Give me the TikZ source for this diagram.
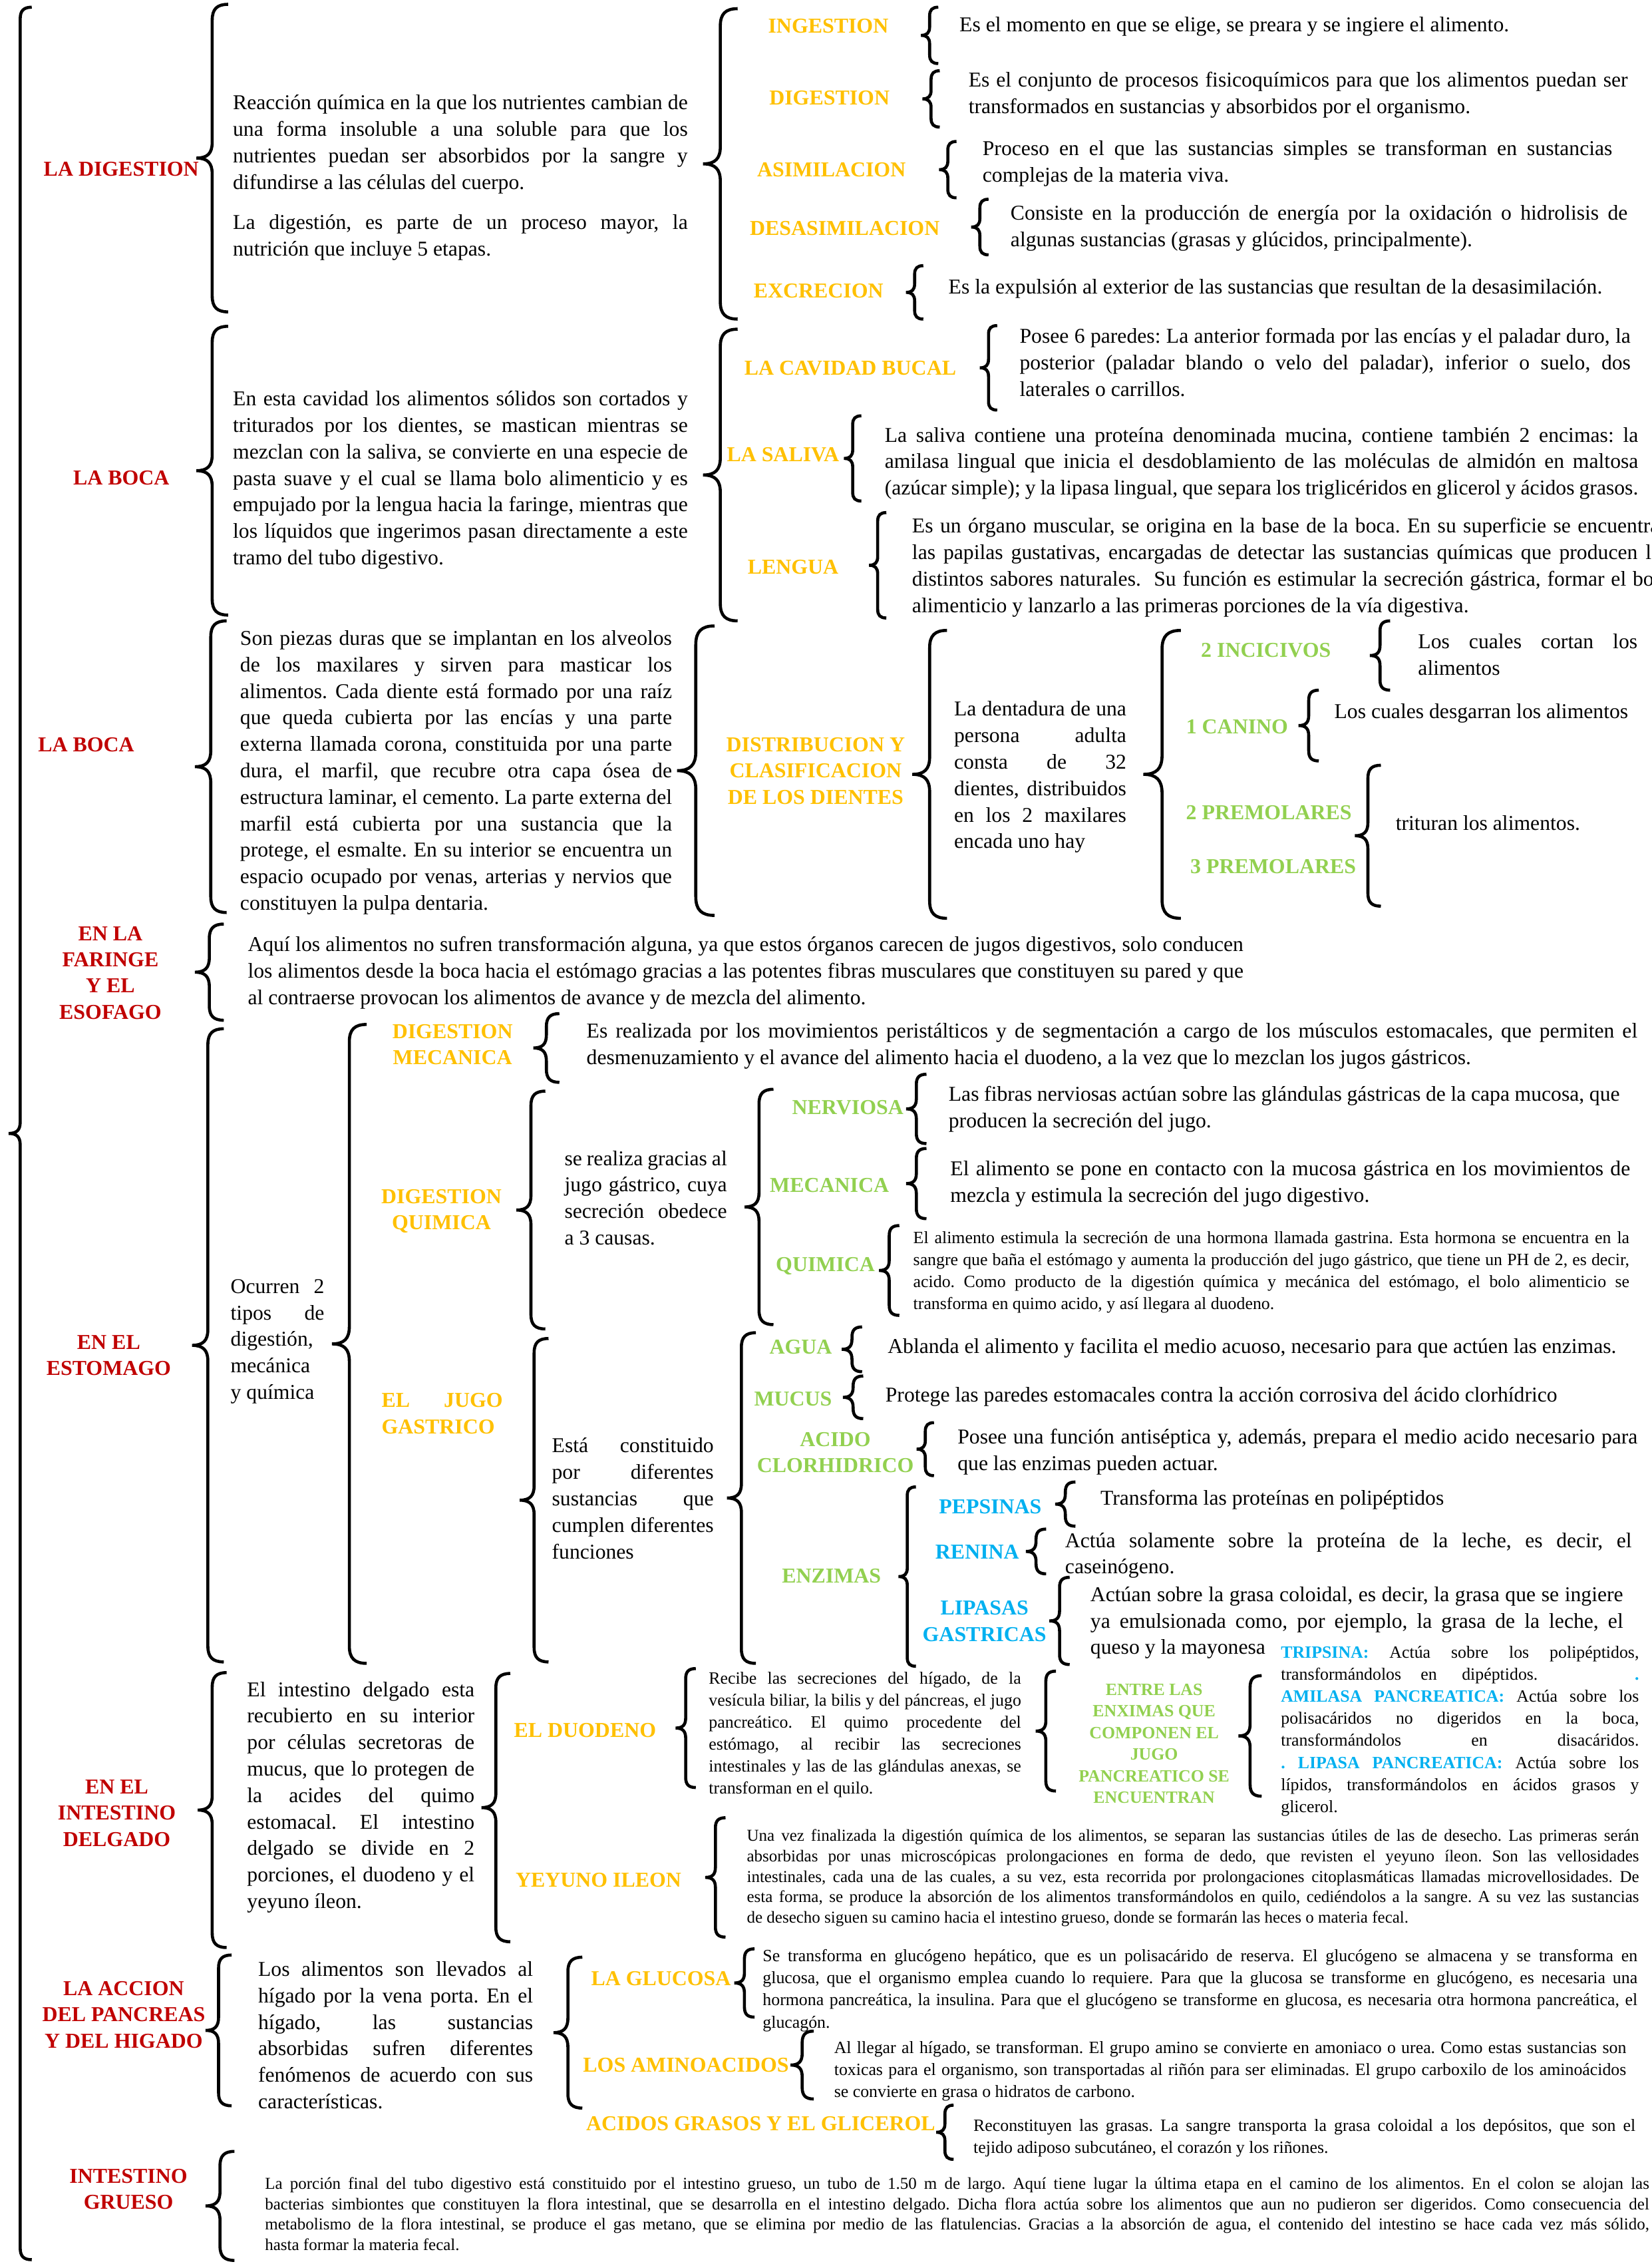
\documentclass[tikz,border=0pt]{standalone}
\usepackage{fontspec}
\setmainfont{Liberation Serif}

\definecolor{rojo}{HTML}{C00000}
\definecolor{amarillo}{HTML}{FFC000}
\definecolor{verde}{HTML}{92D050}
\definecolor{azul}{HTML}{00B0F0}

% unidad de dibujo
\newdimen\su \su=0.5205pt
\hbadness=10000 \hfuzz=40pt
\setlength{\parindent}{0pt}
\frenchspacing

% renglon justificado a todo el ancho del bloque
\def\anchojl{100pt}
\newcommand{\jl}[1]{\hbox to\anchojl{\spaceskip=0pt\xspaceskip=0pt #1}\par}
\newcommand{\azb}{\color{azul}\bfseries}

% llave: #1 gancho, #2 x, #3 y de arriba, #4 y de abajo
\newcommand{\llave}[4][7]{%
    \pgfmathsetmacro{\ymed}{(#3+#4)/2}%
    \draw[llave] ({#2+#1},#3) .. controls ({#2+0.3*#1},#3) and (#2,{#3+0.3*#1}) .. (#2,{#3+#1})
        -- (#2,{\ymed-#1}) .. controls (#2,{\ymed-0.3*#1}) and ({#2-0.3*#1},\ymed) .. ({#2-#1},\ymed)
        .. controls ({#2-0.3*#1},\ymed) and (#2,{\ymed+0.3*#1}) .. (#2,{\ymed+#1})
        -- (#2,{#4-#1}) .. controls (#2,{#4-0.3*#1}) and ({#2+0.3*#1},#4) .. ({#2+#1},#4);}

\tikzset{
    llave/.style={line width=1.1pt},
    ancho/.style={text width=#1, /utils/exec={\def\anchojl{#1}}},
    texto/.style={inner sep=0pt, anchor=base west, align=justify, font=\fontsize{7.6}{9.55}\selectfont},
    chico/.style={texto, font=\fontsize{6.2}{7.95}\selectfont},
    menudo/.style={texto, font=\fontsize{6.0}{7.35}\selectfont},
    rotulo/.style={inner sep=0pt, anchor=center, align=center, font=\bfseries\fontsize{7.65}{9.4}\selectfont, text=rojo},
    paso/.style={rotulo, text=amarillo},
    tipo/.style={rotulo, text=verde},
    enzima/.style={rotulo, text=azul}
}

\begin{document}
\begin{tikzpicture}[x=\su, y=-\su]
    \useasboundingbox (0,0) rectangle (1144,1568);
    \clip (0,0) rectangle (1144,1568);

    % llave general
    \llave[8]{14}{5}{1565}

    % ---------------- LA DIGESTION ----------------
    \node (digestion) at (84,117) [rotulo] {LA DIGESTION};
    \llave[11]{147}{3}{216}
    \node (digdef) at (161,76) [texto, ancho=164pt] {\jl{Reacción química en la que los nutrientes cambian de}\jl{una forma insoluble a una soluble para que los}\jl{nutrientes puedan ser absorbidos por la sangre y}difundirse a las células del cuerpo.};
    \node (dignut) at (161,159) [texto, ancho=164pt] {\jl{La digestión, es parte de un proceso mayor, la}nutrición que incluye 5 etapas.};
    \llave[12]{499}{6}{221}

    % etapas
    \node (ingestion) at (573.8,18.1) [paso] {INGESTION};
    \llave[6]{644}{5}{44}
    \node (ingestiont) at (664.3,21.8) [texto] {Es el momento en que se elige, se preara y se ingiere el alimento.};
    \node (digest) at (574.6,67.6) [paso] {DIGESTION};
    \llave[6]{645}{49}{88}
    \node (digestt) at (670.6,60.1) [texto, ancho=237.7pt] {\jl{Es el conjunto de procesos fisicoquímicos para que los alimentos puedan ser}transformados en sustancias y absorbidos por el organismo.};
    \node (asim) at (576,117.6) [paso] {ASIMILACION};
    \llave[6]{656.6}{98}{137}
    \node (asimt) at (680.3,107.8) [texto, ancho=227.1pt] {\jl{Proceso en el que las sustancias simples se transforman en sustancias}complejas de la materia viva.};
    \node (desasim) at (585.2,158.3) [paso] {DESASIMILACION};
    \llave[6]{678.8}{138}{176.5}
    \node (desasimt) at (699.7,152.4) [texto, ancho=222.5pt] {\jl{Consiste en la producción de energía por la oxidación o hidrolisis de}algunas sustancias (grasas y glúcidos, principalmente).};
    \node (excrec) at (567,201.4) [paso] {EXCRECION};
    \llave[6]{633.6}{184}{221}
    \node (excrect) at (656.7,203.6) [texto] {Es la expulsión al exterior de las sustancias que resultan de la desasimilación.};

    % ---------------- LA BOCA ----------------
    \node (boca) at (84,331) [rotulo] {LA BOCA};
    \llave[11]{147}{226}{426}
    \node (bocadef) at (161,281) [texto, ancho=164pt] {\jl{En esta cavidad los alimentos sólidos son cortados y}\jl{triturados por los dientes, se mastican mientras se}\jl{mezclan con la saliva, se convierte en una especie de}\jl{pasta suave y el cual se llama bolo alimenticio y es}\jl{empujado por la lengua hacia la faringe, mientras que}\jl{los líquidos que ingerimos pasan directamente a este}tramo del tubo digestivo.};
    \llave[12]{499}{228}{430}
    \node (cavidad) at (589,255) [paso] {LA CAVIDAD BUCAL};
    \llave[6]{684.8}{225.5}{284}
    \node (cavidadt) at (706,237.7) [texto, ancho=220.3pt] {\jl{Posee 6 paredes: La anterior formada por las encías y el paladar duro, la}\jl{posterior (paladar blando o velo del paladar), inferior o suelo, dos}laterales o carrillos.};
    \node (saliva) at (542.4,315) [paso] {LA SALIVA};
    \llave[6]{590.7}{288}{347}
    \node (salivat) at (612.5,306.1) [texto, ancho=271.7pt] {\jl{La saliva contiene una proteína denominada mucina, contiene también 2 encimas: la}\jl{amilasa lingual que inicia el desdoblamiento de las moléculas de almidón en maltosa}\jl{(azúcar simple); y la lipasa lingual, que separa los triglicéridos en glicerol y ácidos grasos.}};
    \node (lengua) at (549.4,392.7) [paso] {LENGUA};
    \llave[6]{608}{355}{428}
    \node (linguat) at (631.5,369.1) [texto, ancho=273.3pt] {\jl{Es un órgano muscular, se origina en la base de la boca. En su superficie se encuentran}\jl{las papilas gustativas, encargadas de detectar las sustancias químicas que producen los}\jl{distintos sabores naturales.\ \ Su función es estimular la secreción gástrica, formar el bolo}alimenticio y lanzarlo a las primeras porciones de la vía digestiva.};

    % ---------------- LA BOCA: dientes ----------------
    \node (dientes) at (59.7,516) [rotulo] {LA BOCA};
    \llave[11]{146}{430}{632}
    \node (dientesdef) at (166,446.8) [texto, ancho=155.7pt] {\jl{Son piezas duras que se implantan en los alveolos}\jl{de los maxilares y sirven para masticar los}\jl{alimentos. Cada diente está formado por una raíz}\jl{que queda cubierta por las encías y una parte}\jl{externa llamada corona, constituida por una parte}\jl{dura, el marfil, que recubre otra capa ósea de}\jl{estructura laminar, el cemento. La parte externa del}\jl{marfil está cubierta por una sustancia que la}\jl{protege, el esmalte. En su interior se encuentra un}\jl{espacio ocupado por venas, arterias y nervios que}constituyen la pulpa dentaria.};
    \llave[13]{482}{433.5}{634}
    \node (distrib) at (565,534) [paso] {DISTRIBUCION Y\\CLASIFICACION\\DE LOS DIENTES};
    \llave[12]{644}{436.6}{636}
    \node (dentadura) at (660.6,495.9) [texto, ancho=62.1pt] {\jl{La dentadura de una}\jl{persona adulta}\jl{consta de 32}\jl{dientes, distribuidos}\jl{en los 2 maxilares}encada uno hay};
    \llave[13]{805}{436.6}{636}
    \node (incisivos) at (877,450.5) [tipo] {2 INCICIVOS};
    \llave[7]{956}{430}{478}
    \node (incisivost) at (982,449.1) [texto, ancho=79.1pt] {\jl{Los cuales cortan los}alimentos};
    \node (canino) at (857,503.5) [tipo] {1 CANINO};
    \llave[7]{906.6}{478}{527}
    \node (caninot) at (924,497.5) [texto] {Los cuales desgarran los alimentos};
    \node (premol2) at (879,563) [tipo] {2 PREMOLARES};
    \node (premol3) at (882,600) [tipo] {3 PREMOLARES};
    \llave[9]{947.6}{530}{627.6}
    \node (premolt) at (966.5,575.1) [texto] {trituran los alimentos.};

    % ---------------- FARINGE Y ESOFAGO ----------------
    \node (faringe) at (76.5,673.8) [rotulo] {EN LA\\FARINGE\\Y EL\\ESOFAGO};
    \llave[10]{145}{640}{706.6}
    \node (faringet) at (171.3,658.9) [texto, ancho=359pt] {\jl{Aquí los alimentos no sufren transformación alguna, ya que estos órganos carecen de jugos digestivos, solo conducen}\jl{los alimentos desde la boca hacia el estómago gracias a las potentes fibras musculares que constituyen su pared y que}al contraerse provocan los alimentos de avance y de mezcla del alimento.};

    % ---------------- ESTOMAGO ----------------
    \node (estomago) at (75.3,938.6) [rotulo] {EN EL\\ESTOMAGO};
    \llave[11]{144}{712.5}{1151}
    \node (tipos) at (159.4,895.7) [texto, ancho=33.8pt] {\jl{Ocurren 2}\jl{tipos de}digestión,\par mecánica\par y química};
    \llave[12]{242}{709.5}{1152}
    \node (digmec) at (313.5,723.6) [paso] {DIGESTION\\MECANICA};
    \llave[9]{378.5}{702}{749.6}
    \node (digmect) at (406,718.7) [texto, ancho=378.9pt] {\jl{Es realizada por los movimientos peristálticos y de segmentación a cargo de los músculos estomacales, que permiten el}desmenuzamiento y el avance del alimento hacia el duodeno, a la vez que lo mezclan los jugos gástricos.};
    \node (digqui) at (305.8,838.9) [paso] {DIGESTION\\QUIMICA};
    \llave[10]{367.8}{755.7}{920.4}
    \node (causas) at (390.7,807.1) [texto, ancho=58.6pt] {\jl{se realiza gracias al}\jl{jugo gástrico, cuya}\jl{secreción obedece}a 3 causas.};
    \llave[10]{525.8}{754.4}{917.4}
    \node (nerviosa) at (587.3,767) [tipo] {NERVIOSA};
    \llave[7]{634.8}{744}{792}
    \node (nerviosat) at (656.8,762.6) [texto, ancho=242pt] {\jl{Las fibras nerviosas actúan sobre las glándulas gástricas de la capa mucosa, que}producen la secreción del jugo.};
    \node (mecanica) at (574.6,820.8) [tipo] {MECANICA};
    \llave[7]{634.8}{795.4}{844}
    \node (mecanicat) at (658,814.1) [texto, ancho=245.1pt] {\jl{El alimento se pone en contacto con la mucosa gástrica en los movimientos de}mezcla y estimula la secreción del jugo digestivo.};
    \node (quimica) at (571.8,876.9) [tipo] {QUIMICA};
    \llave[7]{616}{848.8}{911}
    \node (quimicat) at (632.3,861) [chico, ancho=258.2pt] {\jl{El alimento estimula la secreción de una hormona llamada gastrina. Esta hormona se encuentra en la}\jl{sangre que baña el estómago y aumenta la producción del jugo gástrico, que tiene un PH de 2, es decir,}\jl{acido. Como producto de la digestión química y mecánica del estómago, el bolo alimenticio se}transforma en quimo acido, y así llegara al duodeno.};

    % jugo gastrico
    \node (jugo) at (264,979) [paso, anchor=west, align=left, ancho=43.7pt] {\jl{EL JUGO}GASTRICO};
    \llave[10]{370}{927}{1151}
    \node (sustancias) at (382,1006.1) [texto, ancho=58.3pt] {\jl{Está constituido}\jl{por diferentes}\jl{sustancias que}\jl{cumplen diferentes}funciones};
    \llave[10]{513.6}{923}{1152}
    \node (agua) at (554.7,932.9) [tipo] {AGUA};
    \llave[7]{590.2}{919}{950}
    \node (aguat) at (614.6,937.1) [texto] {Ablanda el alimento y facilita el medio acuoso, necesario para que actúen las enzimas.};
    \node (mucus) at (549.4,969) [tipo] {MUCUS};
    \llave[7]{591}{953}{982.5}
    \node (mucust) at (613,970.9) [texto] {Protege las paredes estomacales contra la acción corrosiva del ácido clorhídrico};
    \node (acido) at (578.7,1005.8) [tipo] {ACIDO\\CLORHIDRICO};
    \llave[6]{641}{985.3}{1022}
    \node (acidot) at (663,1000.1) [texto, ancho=245.2pt] {\jl{Posee una función antiséptica y, además, prepara el medio acido necesario para}que las enzimas pueden actuar.};
    \node (enzimas) at (576,1091.6) [tipo] {ENZIMAS};
    \llave[6]{628.5}{1029.8}{1154}
    \node (pepsinas) at (686,1043.6) [enzima] {PEPSINAS};
    \llave[7]{738}{1026.4}{1057}
    \node (pepsinast) at (762,1042.4) [texto] {Transforma las proteínas en polipéptidos};
    \node (renina) at (677,1075) [enzima] {RENINA};
    \llave[7]{717.7}{1059}{1090}
    \node (reninat) at (737.5,1071.6) [texto, ancho=204.3pt] {\jl{Actúa solamente sobre la proteína de la leche, es decir, el}caseinógeno.};
    \node (lipasas) at (682,1122.8) [enzima] {LIPASAS\\GASTRICAS};
    \llave[7]{734}{1092.4}{1152.8}
    \node (lipasast) at (755,1109.1) [texto, ancho=192.1pt] {\jl{Actúan sobre la grasa coloidal, es decir, la grasa que se ingiere}\jl{ya emulsionada como, por ejemplo, la grasa de la leche, el}queso y la mayonesa};

    % ---------------- INTESTINO DELGADO ----------------
    \node (delgado) at (80.9,1255.8) [rotulo] {EN EL\\INTESTINO\\DELGADO};
    \llave[10]{147}{1158.4}{1348.8}
    \node (delgadot) at (170.8,1174.9) [texto, ancho=82pt] {\jl{El intestino delgado esta}\jl{recubierto en su interior}\jl{por células secretoras de}\jl{mucus, que lo protegen de}\jl{la acides del quimo}\jl{estomacal. El intestino}\jl{delgado se divide en 2}\jl{porciones, el duodeno y el}yeyuno íleon.};
    \llave[10]{343.5}{1159}{1344.8}
    \node (duodeno) at (405.3,1198.5) [paso] {EL DUODENO};
    \llave[7]{475}{1155.6}{1238}
    \node (duodenot) at (490.7,1166.1) [chico, ancho=112.6pt] {\jl{Recibe las secreciones del hígado, de la}\jl{vesícula biliar, la bilis y del páncreas, el jugo}\jl{pancreático. El quimo procedente del}\jl{estómago, al recibir las secreciones}\jl{intestinales y las de las glándulas anexas, se}transforman en el quilo.};
    \llave[7]{724.5}{1157.4}{1240.4}
    \node (entre) at (799.5,1207.5) [tipo, font=\bfseries\fontsize{6.2}{7.8}\selectfont] {ENTRE LAS\\ENXIMAS QUE\\COMPONEN EL\\JUGO\\PANCREATICO SE\\ENCUENTRAN};
    \llave[8]{866}{1160.5}{1244}
    \node (pancreat) at (887,1148.3) [chico, ancho=129.1pt] {\jl{{\azb TRIPSINA:} Actúa sobre los polipéptidos,}\jl{transformándolos\hspace{7pt}en\hspace{9pt}dipéptidos.\hfill{\azb .}}\jl{{\azb AMILASA PANCREATICA:} Actúa sobre los}\jl{polisacáridos no digeridos en la boca,}\jl{transformándolos en disacáridos.}\jl{{\azb . LIPASA PANCREATICA:} Actúa sobre los}\jl{lípidos, transformándolos en ácidos grasos y}glicerol.};
    \node (yeyuno) at (414.6,1302) [paso] {YEYUNO ILEON};
    \llave[7]{495.6}{1258.9}{1341.6}
    \node (yeyunot) at (517,1275.2) [menudo, ancho=321.7pt] {\jl{Una vez finalizada la digestión química de los alimentos, se separan las sustancias útiles de las de desecho. Las primeras serán}\jl{absorbidas por unas microscópicas prolongaciones en forma de dedo, que revisten el yeyuno íleon. Son las vellosidades}\jl{intestinales, cada una de las cuales, a su vez, esta recorrida por prolongaciones citoplasmáticas llamadas microvellosidades. De}\jl{esta forma, se produce la absorción de los alimentos transformándolos en quilo, cediéndolos a la sangre. A su vez las sustancias}de desecho siguen su camino hacia el intestino grueso, donde se formarán las heces o materia fecal.};

    % ---------------- PANCREAS E HIGADO ----------------
    \node (accion) at (85.7,1395.4) [rotulo] {LA ACCION\\DEL PANCREAS\\Y DEL HIGADO};
    \llave[9]{151.4}{1354}{1458.4}
    \node (acciont) at (178.5,1368.6) [texto, ancho=99.1pt] {\jl{Los alimentos son llevados al}\jl{hígado por la vena porta. En el}\jl{hígado, las sustancias}\jl{absorbidas sufren diferentes}\jl{fenómenos de acuerdo con sus}características.};
    \llave[10]{393.4}{1355.5}{1460}
    \node (glucosa) at (457.9,1370.3) [paso] {LA GLUCOSA};
    \llave[7]{515.7}{1349.7}{1397}
    \node (glucosat) at (528,1358.6) [chico, ancho=315.4pt] {\jl{Se transforma en glucógeno hepático, que es un polisacárido de reserva. El glucógeno se almacena y se transforma en}\jl{glucosa, que el organismo emplea cuando lo requiere. Para que la glucosa se transforme en glucógeno, es necesaria una}\jl{hormona pancreática, la insulina. Para que el glucógeno se transforme en glucosa, es necesaria otra hormona pancreática, el}glucagón.};
    \node (amino) at (475.2,1430.2) [paso] {LOS AMINOACIDOS};
    \llave[8]{555.7}{1406.7}{1453.7}
    \node (aminot) at (577.5,1422) [chico, ancho=285.6pt] {\jl{Al llegar al hígado, se transforman. El grupo amino se convierte en amoniaco o urea. Como estas sustancias son}\jl{toxicas para el organismo, son transportadas al riñón para ser eliminadas. El grupo carboxilo de los aminoácidos}se convierte en grasa o hidratos de carbono.};
    \node (grasos) at (527,1471) [paso] {ACIDOS GRASOS Y EL GLICEROL};
    \llave[6]{654.6}{1458}{1495.5}
    \node (grasost) at (674,1475.8) [chico, ancho=238.7pt] {\jl{Reconstituyen las grasas. La sangre transporta la grasa coloidal a los depósitos, que son el}tejido adiposo subcutáneo, el corazón y los riñones.};

    % ---------------- INTESTINO GRUESO ----------------
    \node (grueso) at (89,1516) [rotulo] {INTESTINO\\GRUESO};
    \llave[10]{152.4}{1490}{1565.5}
    \node (gruesot) at (183.2,1516.2) [menudo, ancho=499.1pt] {\jl{La porción final del tubo digestivo está constituido por el intestino grueso, un tubo de 1.50 m de largo. Aquí tiene lugar la última etapa en el camino de los alimentos. En el colon se alojan las}\jl{bacterias simbiontes que constituyen la flora intestinal, que se desarrolla en el intestino delgado. Dicha flora actúa sobre los alimentos que aun no pudieron ser digeridos. Como consecuencia del}\jl{metabolismo de la flora intestinal, se produce el gas metano, que se elimina por medio de las flatulencias. Gracias a la absorción de agua, el contenido del intestino se hace cada vez más sólido,}hasta formar la materia fecal.};
\end{tikzpicture}
\end{document}
